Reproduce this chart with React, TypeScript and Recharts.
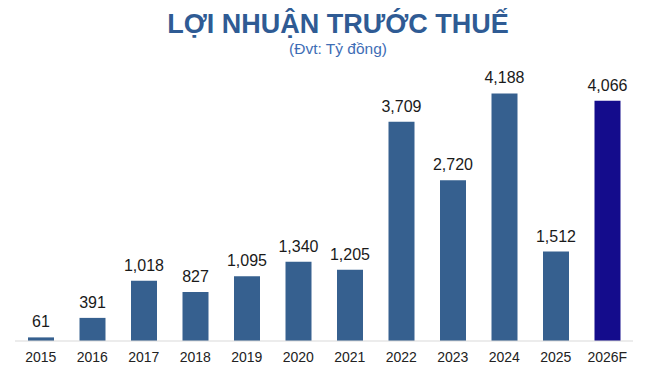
import { BarChart, Bar, XAxis, YAxis, Cell, LabelList } from "recharts";

const years = ["2015", "2016", "2017", "2018", "2019", "2020", "2021", "2022", "2023", "2024", "2025", "2026F"];
const profit = [61, 391, 1018, 827, 1095, 1340, 1205, 3709, 2720, 4188, 1512, 4066];

const data = years.map((year, i) => ({ year, value: profit[i] }));

const BAR = "#36608F";
const FORECAST = "#140C8C";
const FONT = "'Liberation Sans', Arial, sans-serif";

export default function App() {
  return (
    <div style={{ position: "absolute", left: 0, top: 0, width: 648, height: 379, background: "#fff" }}>
      <svg width={648} height={379} style={{ position: "absolute", left: 0, top: 0 }}>
        <text x={338} y={33} textAnchor="middle" fontFamily={FONT} fontSize={27} fontWeight="bold" fill="#2F5B94">
          LỢI NHUẬN TRƯỚC THUẾ
        </text>
        <text x={338} y={54} textAnchor="middle" fontFamily={FONT} fontSize={15.5} fill="#3E6DB5">
          (Đvt: Tỷ đồng)
        </text>
      </svg>
      <div style={{ position: "absolute", left: 0, top: 0 }}>
        <BarChart width={648} height={379} data={data} margin={{ top: 75, right: 15, bottom: 0, left: 15 }}>
          <XAxis
            dataKey="year"
            height={38}
            tickLine={false}
            tickMargin={5}
            axisLine={{ stroke: "#D9D9D9" }}
            tick={{ fontSize: 14, fill: "#222", fontFamily: FONT }}
            interval={0}
          />
          <YAxis hide domain={[0, 4500]} />
          <Bar dataKey="value" barSize={26} isAnimationActive={false}>
            {data.map((d, i) => (
              <Cell key={d.year} fill={i === data.length - 1 ? FORECAST : BAR} />
            ))}
            <LabelList
              dataKey="value"
              position="top"
              offset={10}
              formatter={(v: any) => Number(v).toLocaleString("en-US")}
              style={{ fontSize: 16, fill: "#1A1A1A", fontFamily: FONT }}
            />
          </Bar>
        </BarChart>
      </div>
    </div>
  );
}
